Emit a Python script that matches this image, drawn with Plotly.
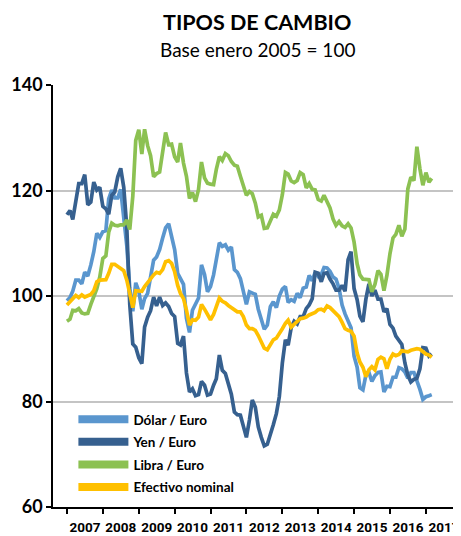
import pandas as pd
import plotly.graph_objects as go

fechas = pd.date_range("2007-01-01", periods=123, freq="MS")

dolar = [
    99.1, 99.7, 100.9, 103.0, 103.0, 102.3, 104.5, 103.8, 105.9, 108.4, 111.9, 111.1,
    112.2, 112.4, 118.4, 120.1, 118.6, 118.6, 120.2, 114.1, 109.5, 101.5, 97.1, 102.5,
    100.9, 97.5, 99.5, 100.5, 104.0, 106.8, 107.4, 108.8, 111.0, 112.9, 113.7, 111.4,
    108.8, 104.3, 103.4, 102.2, 95.8, 93.1, 97.3, 98.3, 99.6, 105.9, 104.1, 100.8,
    101.8, 104.0, 106.7, 110.1, 109.4, 109.7, 108.7, 109.3, 105.0, 104.5, 103.3, 100.5,
    98.4, 100.8, 100.6, 100.3, 97.5, 95.5, 93.7, 94.5, 98.0, 98.9, 97.8, 100.0,
    101.3, 101.8, 98.8, 99.3, 99.0, 100.5, 99.7, 101.5, 101.7, 103.9, 102.9, 104.5,
    103.7, 104.1, 105.4, 105.3, 104.7, 103.6, 103.2, 101.5, 98.3, 96.6, 95.1, 94.0,
    88.6, 86.5, 82.6, 82.2, 85.0, 85.5, 83.8, 84.9, 85.5, 85.6, 81.8, 82.9,
    82.8, 84.6, 84.6, 86.4, 86.2, 85.6, 84.4, 85.5, 85.5, 84.0, 82.3, 80.4,
    80.9, 81.1, 81.3,
]

yen = [
    115.4, 116.2, 114.5, 118.5, 121.3, 121.3, 123.0, 117.3, 117.8, 121.6, 120.1, 120.6,
    117.0, 116.5, 115.5, 119.1, 119.7, 122.6, 124.2, 120.6, 113.0, 98.4, 90.9, 90.3,
    88.3, 87.2, 94.1, 96.0, 97.2, 99.8, 98.1, 99.8, 98.2, 98.7, 98.0, 96.7,
    96.1, 91.0, 90.7, 92.4, 85.4, 81.8, 82.4, 81.1, 81.3, 83.8, 83.1, 81.2,
    81.4, 83.1, 84.3, 88.8, 85.9, 85.3, 83.5, 81.4, 78.0, 77.5, 77.4, 75.6,
    73.2, 76.5, 80.3, 78.9, 75.2, 73.2, 71.6, 71.9, 74.1, 75.6, 77.7, 80.9,
    87.3, 91.7, 90.7, 94.0, 95.2, 94.7, 96.1, 96.1, 97.6, 98.3, 99.5, 104.5,
    104.3, 102.7, 104.3, 104.4, 103.2, 102.3, 101.1, 101.1, 102.0, 100.9, 106.9, 108.4,
    101.4, 99.3, 96.2, 95.1, 99.4, 102.3, 100.0, 101.1, 99.4, 99.4, 97.0, 97.6,
    94.6, 93.9, 92.4, 91.6, 90.8, 87.3, 85.0, 83.7, 84.2, 84.4, 86.2, 90.2,
    90.1, 88.6, 89.0,
]

libra = [
    95.2, 95.6, 97.3, 97.2, 97.6, 96.8, 96.6, 96.7, 98.4, 99.8, 101.4, 103.6,
    107.1, 107.6, 112.1, 113.8, 113.4, 113.3, 113.5, 113.5, 114.4, 112.6, 118.9, 129.5,
    131.5, 126.9, 131.6, 128.5, 126.6, 122.6, 123.2, 123.5, 127.6, 131.0, 128.7, 128.8,
    126.4, 125.4, 129.0, 125.2, 122.7, 118.5, 119.6, 117.9, 120.2, 125.4, 122.4, 121.4,
    121.2, 121.1, 124.0, 126.4, 125.7, 127.0, 126.6, 125.5, 124.8, 124.6, 122.7, 120.8,
    119.1, 119.8, 119.4, 117.6, 115.0, 115.3, 112.8, 112.9, 114.2, 115.5, 115.1, 116.3,
    119.2, 123.4, 123.1, 121.8, 121.5, 121.9, 123.4, 123.0, 120.5, 121.3, 120.2, 120.1,
    118.3, 118.0, 119.1, 117.8, 116.7, 114.6, 113.4, 114.1, 113.3, 113.0, 113.7, 112.9,
    110.2, 106.1, 104.0, 103.2, 103.2, 103.1, 100.8, 102.2, 104.8, 104.1, 101.0, 103.9,
    108.0, 111.0, 111.7, 113.4, 111.3, 112.7, 120.3, 122.5, 121.9, 128.3, 124.1, 121.0,
    123.4, 121.6, 122.3,
]

efectivo = [
    98.3, 98.9, 99.6, 100.1, 99.7, 100.2, 99.8, 100.0, 100.3, 101.0, 102.7, 103.0,
    103.1, 103.1, 104.3, 106.0, 106.0, 105.5, 105.2, 104.8, 103.0, 100.5, 97.8, 101.0,
    101.0, 100.9, 101.8, 102.6, 103.5, 104.0, 104.5, 104.3, 105.0, 106.5, 106.7, 106.2,
    104.6, 102.0, 100.5, 99.5, 97.3, 94.5, 95.5, 95.4, 96.0, 98.4, 97.5, 96.5,
    95.5, 96.5, 97.8, 99.6, 99.0, 98.7, 98.2, 97.8, 97.3, 97.0, 97.0, 96.1,
    94.5, 93.8, 93.8, 93.5, 92.5, 91.2, 90.1, 89.8, 90.8, 91.7, 92.0, 92.8,
    93.8, 94.8, 95.4, 94.1, 94.7, 95.1, 95.7, 95.8, 96.0, 96.4, 96.7, 96.9,
    97.4, 97.5, 97.2, 98.1, 97.8, 97.2, 96.8, 96.1, 95.0, 93.8, 93.5, 93.3,
    92.4, 89.2, 87.5, 86.5, 84.7, 86.0, 86.6, 86.0, 88.0, 88.4, 88.1, 86.2,
    88.0, 89.0, 88.7, 88.9, 89.6, 89.5, 89.4, 89.7, 89.9, 90.0, 89.9, 89.4,
    89.0, 88.8, 88.4,
]

series = [
    ("Dólar / Euro", dolar, "#5A96CE"),
    ("Yen / Euro", yen, "#36608F"),
    ("Libra / Euro", libra, "#8CC152"),
    ("Efectivo nominal", efectivo, "#FFC000"),
]

y_ticks = [60, 80, 100, 120, 140]

fig = go.Figure()
for name, vals, color in series:
    fig.add_trace(go.Scatter(x=fechas, y=vals, mode="lines", name=name,
                             line=dict(color=color, width=3.7),
                             showlegend=False, hoverinfo="skip"))
for i, (name, vals, color) in enumerate(series):
    fig.add_trace(go.Scatter(x=[None], y=[None], mode="lines", name=name,
                             line=dict(color=color, width=8),
                             legendgroup=f"g{i}", showlegend=True))

fig.update_layout(
    width=453, height=528,
    margin=dict(l=45, r=0, t=77, b=29),
    paper_bgcolor="white", plot_bgcolor="white",
    font=dict(family="Lato, sans-serif", color="black"),
    showlegend=True,
    legend=dict(x=0.05, y=0.244, xanchor="left", yanchor="top",
                bgcolor="rgba(0,0,0,0)", tracegroupgap=2, itemwidth=50,
                font=dict(family="Lato, sans-serif", size=13.5, weight="bold", color="black"),
                traceorder="grouped"),
    xaxis=dict(type="date", range=["2006-08-12", "2017-12-24"],
               tick0="2007-01-01", dtick="M12", tickformat="%Y",
               ticklabelmode="period", ticks="outside", ticklen=5,
               tickcolor="black", tickwidth=1.5, ticklabelstandoff=2,
               showline=True, linecolor="black", linewidth=1.5,
               showgrid=False, zeroline=False,
               tickfont=dict(family="Roboto, sans-serif",
                             size=13.5, weight="bold", color="black")),
    yaxis=dict(range=[60, 140], tickvals=y_ticks, ticks="outside", ticklen=5,
               tickcolor="black", tickwidth=1.5,
               showline=True, linecolor="black", linewidth=1.5,
               showgrid=True, gridcolor="#c4c4c4", gridwidth=1.5, zeroline=False,
               tickfont=dict(family="Lato, sans-serif", size=18, weight="bold", color="black")),
    annotations=[
        dict(text="<b>TIPOS DE CAMBIO</b>", xref="paper", yref="paper",
             x=0.5, y=1.149, xanchor="center", yanchor="middle", showarrow=False,
             font=dict(size=21.5, family="Lato, sans-serif", color="black")),
        dict(text="Base enero 2005 = 100", xref="paper", yref="paper",
             x=0.5, y=1.083, xanchor="center", yanchor="middle", showarrow=False,
             font=dict(size=19, family="Lato, sans-serif", color="black")),
    ],
)

fig.write_html("out.html")
